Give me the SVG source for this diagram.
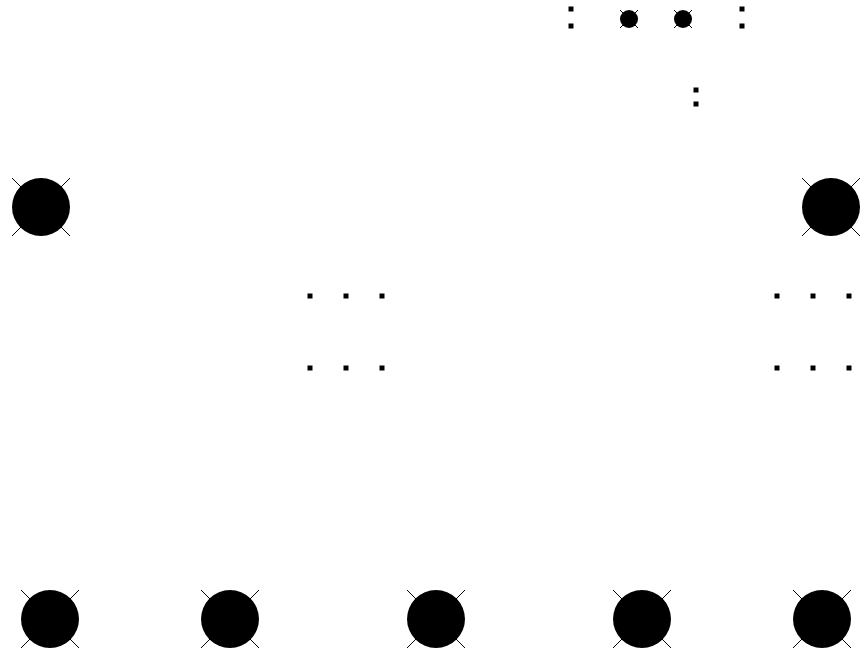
<svg xmlns="http://www.w3.org/2000/svg" width="864" height="657" viewBox="0 0 864 657">
<defs>
<style>
.x{stroke:#000;stroke-width:1;fill:none}
.c{fill:#000}
.d{fill:#000}
</style>
<g id="lamp">
<path class="x" d="M-29,-29L29,29M29,-29L-29,29"/>
<circle class="c" r="29"/>
</g>
<g id="lampS">
<path class="x" d="M-9,-9L9,9M9,-9L-9,9"/>
<circle class="c" r="9"/>
</g>
<rect id="dot" x="-2.5" y="-2.5" width="5" height="5"/>
</defs>
<rect width="864" height="657" fill="#fff"/>
<g id="connectors"></g>
<g id="n1"><use href="#lamp" x="41" y="207"/></g>
<g id="n2"><use href="#lamp" x="831" y="207"/></g>
<g id="n3"><use href="#lamp" x="50" y="619"/></g>
<g id="n4"><use href="#lamp" x="230" y="619"/></g>
<g id="n5"><use href="#lamp" x="436" y="619"/></g>
<g id="n6"><use href="#lamp" x="642" y="619"/></g>
<g id="n7"><use href="#lamp" x="822" y="619"/></g>
<g id="n8"><use href="#lampS" x="629" y="19"/></g>
<g id="n9"><use href="#lampS" x="683" y="19"/></g>
<g id="dots">
<use href="#dot" x="571" y="9"/><use href="#dot" x="571" y="26"/>
<use href="#dot" x="742" y="9"/><use href="#dot" x="742" y="26"/>
<use href="#dot" x="696" y="90"/><use href="#dot" x="696" y="104"/>
<use href="#dot" x="310" y="296"/><use href="#dot" x="346" y="296"/><use href="#dot" x="382" y="296"/>
<use href="#dot" x="310" y="368"/><use href="#dot" x="346" y="368"/><use href="#dot" x="382" y="368"/>
<use href="#dot" x="777" y="296"/><use href="#dot" x="813" y="296"/><use href="#dot" x="849" y="296"/>
<use href="#dot" x="777" y="368"/><use href="#dot" x="813" y="368"/><use href="#dot" x="849" y="368"/>
</g>
</svg>
